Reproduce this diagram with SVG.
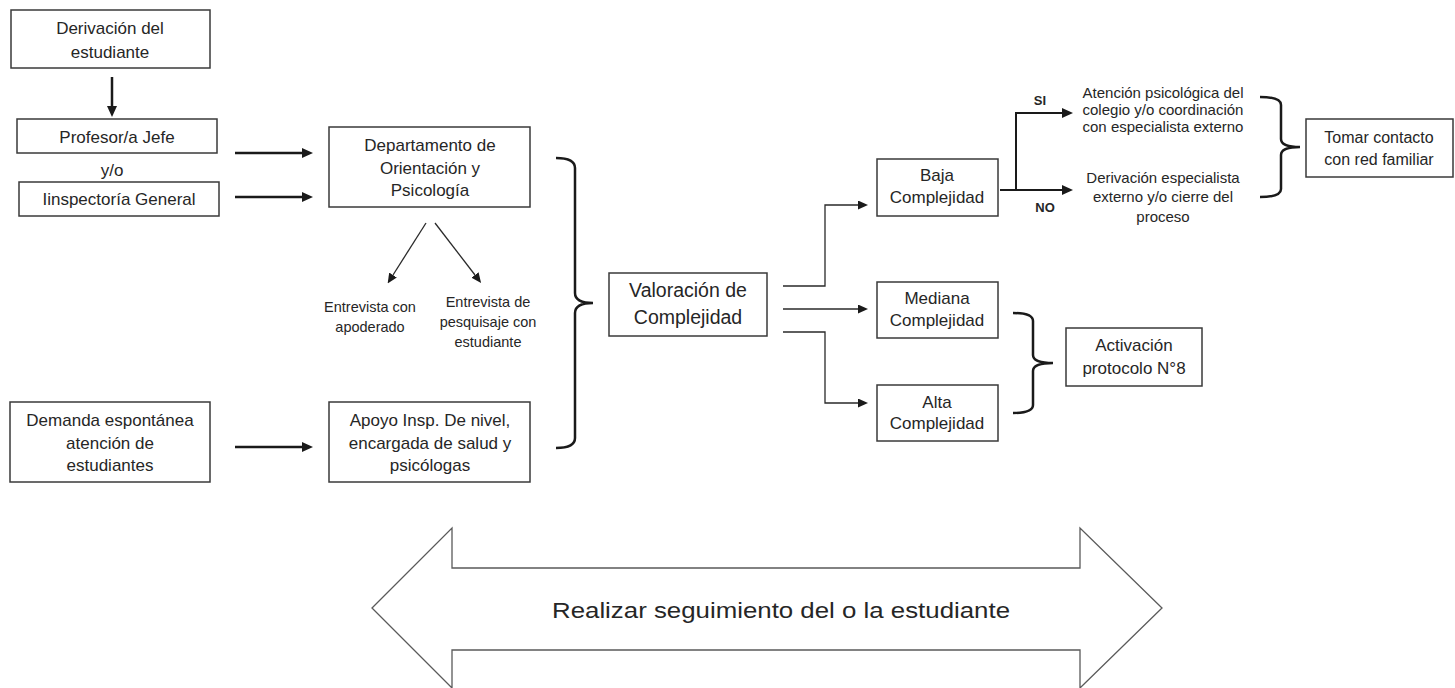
<svg xmlns="http://www.w3.org/2000/svg" width="1455" height="688" viewBox="0 0 1455 688">
<style>
text{font-family:"Liberation Sans",Arial,sans-serif;fill:#262626;text-anchor:middle}
.box{fill:#fff;stroke:#3a3a3a;stroke-width:1.5}
.t17{font-size:17px}
.t15{font-size:15px}
.t14{font-size:14.5px}
.b{font-size:13px;font-weight:bold}
.thick{fill:none;stroke:#1a1a1a;stroke-width:2.5}
.mid{fill:none;stroke:#1a1a1a;stroke-width:2}
.thin{fill:none;stroke:#2a2a2a;stroke-width:1.3}
.brace{fill:none;stroke:#1a1a1a;stroke-width:2.5}
</style>
<defs>
<marker id="ah" markerUnits="userSpaceOnUse" markerWidth="11" markerHeight="10" refX="0" refY="5" orient="auto"><path d="M0,0 L11,5 L0,10 z" fill="#1a1a1a"/></marker>
<marker id="as" markerUnits="userSpaceOnUse" markerWidth="10" markerHeight="9" refX="0" refY="4.5" orient="auto"><path d="M0,0 L10,4.5 L0,9 z" fill="#1a1a1a"/></marker>
</defs>

<g id="connectors">
<path class="thick" d="M112,77 L112,106" marker-end="url(#ah)"/>
<path class="thick" d="M235,153 L302,153" marker-end="url(#ah)"/>
<path class="thick" d="M235,197 L302,197" marker-end="url(#ah)"/>
<path class="thick" d="M235,447 L302,447" marker-end="url(#ah)"/>
<path class="thin" d="M426,223 L393,275" marker-end="url(#as)"/>
<path class="thin" d="M435,223 L475,275" marker-end="url(#as)"/>
<path class="thin" d="M783,286 L825,286 L825,205 L858,205" marker-end="url(#as)"/>
<path class="thin" d="M783,309 L858,309" marker-end="url(#as)"/>
<path class="thin" d="M783,332 L825,332 L825,403 L858,403" marker-end="url(#as)"/>
<path class="mid" d="M1000,190 L1062,190" marker-end="url(#ah)"/>
<path class="mid" d="M1016,190 L1016,113 L1062,113" marker-end="url(#ah)"/>
<path class="brace" d="M556,158 Q575,158 575,168 L575,293 Q575,303 593,303 Q575,303 575,313 L575,438 Q575,448 556,448"/>
<path class="brace" d="M1260,97 Q1281,97 1281,105 L1281,139 Q1281,147 1300,147 Q1281,147 1281,155 L1281,189 Q1281,197 1260,197"/>
<path class="brace" d="M1013,313 Q1033,313 1033,321 L1033,355 Q1033,363 1053,363 Q1033,363 1033,371 L1033,405 Q1033,413 1013,413"/>
</g>

<g id="derivacion"><rect class="box" x="11" y="10" width="199" height="58"/><text class="t17" x="110" y="34">Derivación del</text><text class="t17" x="110" y="58">estudiante</text></g>
<g id="profesor"><rect class="box" x="17" y="119" width="200" height="34"/><text class="t17" x="117" y="143">Profesor/a Jefe</text></g>
<g id="yo"><text class="t17" x="112" y="176">y/o</text></g>
<g id="inspectoria"><rect class="box" x="19" y="182" width="200" height="34"/><text class="t17" x="119" y="205">Iinspectoría General</text></g>
<g id="departamento"><rect class="box" x="329" y="127" width="201" height="80"/><text class="t17" x="430" y="151">Departamento de</text><text class="t17" x="430" y="174">Orientación y</text><text class="t17" x="430" y="196">Psicología</text></g>
<g id="entrevista-apoderado"><text class="t14" x="370" y="312">Entrevista con</text><text class="t14" x="370" y="332">apoderado</text></g>
<g id="entrevista-estudiante"><text class="t14" x="488" y="307">Entrevista de</text><text class="t14" x="488" y="327">pesquisaje con</text><text class="t14" x="488" y="347">estudiante</text></g>
<g id="demanda"><rect class="box" x="10" y="402" width="200" height="80"/><text class="t17" x="110" y="426">Demanda espontánea</text><text class="t17" x="110" y="449">atención de</text><text class="t17" x="110" y="471">estudiantes</text></g>
<g id="apoyo"><rect class="box" x="329" y="402" width="201" height="80"/><text class="t17" x="430" y="426">Apoyo Insp. De nivel,</text><text class="t17" x="430" y="449">encargada de salud y</text><text class="t17" x="430" y="471">psicólogas</text></g>
<g id="valoracion"><rect class="box" x="609" y="273" width="158" height="63"/><text x="688" y="297" style="font-size:19.5px">Valoración de</text><text x="688" y="324" style="font-size:19.5px">Complejidad</text></g>
<g id="baja"><rect class="box" x="877" y="159" width="121" height="57"/><text class="t17" x="937" y="181">Baja</text><text class="t17" x="937" y="203">Complejidad</text></g>
<g id="mediana"><rect class="box" x="877" y="282" width="121" height="56"/><text class="t17" x="937" y="304">Mediana</text><text class="t17" x="937" y="326">Complejidad</text></g>
<g id="alta"><rect class="box" x="877" y="385" width="121" height="56"/><text class="t17" x="937" y="408">Alta</text><text class="t17" x="937" y="429">Complejidad</text></g>
<g id="si"><text class="b" x="1040" y="105">SI</text></g>
<g id="no"><text class="b" x="1045" y="212">NO</text></g>
<g id="atencion"><text class="t15" x="1163" y="98">Atención psicológica del</text><text class="t15" x="1163" y="115">colegio y/o coordinación</text><text class="t15" x="1163" y="132">con especialista externo</text></g>
<g id="derivacion-externa"><text class="t15" x="1163" y="183">Derivación especialista</text><text class="t15" x="1163" y="202">externo y/o cierre del</text><text class="t15" x="1163" y="222">proceso</text></g>
<g id="tomar"><rect class="box" x="1306" y="119" width="147" height="58"/><text x="1379" y="143" style="font-size:16px">Tomar contacto</text><text x="1379" y="165" style="font-size:16px">con red familiar</text></g>
<g id="activacion"><rect class="box" x="1066" y="328" width="136" height="58"/><text class="t17" x="1134" y="351">Activación</text><text class="t17" x="1134" y="374">protocolo N°8</text></g>
<g id="seguimiento"><polygon points="372,608 452,528 452,568 1080,568 1080,528 1162,608 1080,688 1080,650 452,650 452,688" fill="#fff" stroke="#5a5a5a" stroke-width="1.3"/><text x="552" y="618" style="font-size:22px;text-anchor:start" textLength="458" lengthAdjust="spacingAndGlyphs">Realizar seguimiento del o la estudiante</text></g>
</svg>
